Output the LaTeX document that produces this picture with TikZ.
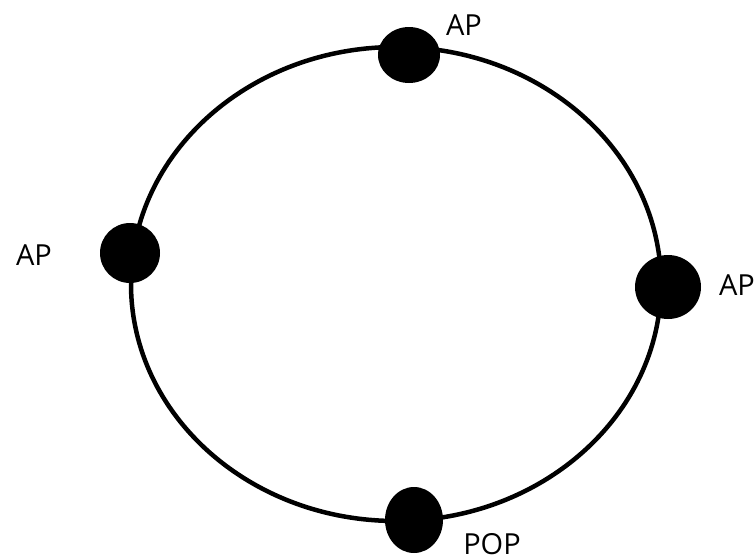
\documentclass[tikz,border=0pt]{standalone}
\usepackage{fontspec}
\setmainfont{Open Sans}
\begin{document}
\begin{tikzpicture}[x=1pt,y=-1pt,
  dot/.style={fill=black,inner sep=0pt},
  lab/.style={font=\fontsize{29}{31}\selectfont,inner sep=0pt,anchor=center}]
\useasboundingbox (0,0) rectangle (756,558);
\draw[line width=4.5pt] (396,284) ellipse [x radius=265, y radius=237];
\fill (409,55) ellipse [x radius=31, y radius=28];
\fill (130,253) ellipse [x radius=30, y radius=30];
\fill (668,287) ellipse [x radius=33, y radius=32];
\fill (414,520) ellipse [x radius=29, y radius=33];
\node[lab] (t) at (464,25) {AP};
\node[lab] (l) at (34,255) {AP};
\node[lab] (r) at (737,285) {AP};
\node[lab] (b) at (492,544) {POP};
\end{tikzpicture}
\end{document}
